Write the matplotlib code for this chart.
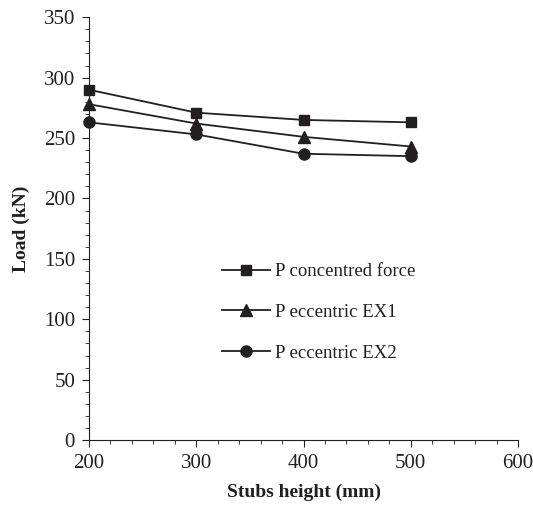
import matplotlib.pyplot as plt
from matplotlib.ticker import MultipleLocator

# data
heights = [200, 300, 400, 500]
p_concentred = [290, 271, 265, 263]
p_ex1 = [278, 262, 251, 243]
p_ex2 = [263, 253, 237, 235]

plt.rcParams['font.family'] = ['Liberation Serif', 'DejaVu Serif']
ink = '#231f20'

fig = plt.figure(figsize=(5.33, 5.07), dpi=100)
ax = fig.add_axes([0.167, 0.132, 0.805, 0.834])

ax.plot(heights, p_concentred, color=ink, lw=1.3, marker='s', ms=7.5,
        label='P concentred force', clip_on=False)
ax.plot(heights, p_ex1, color=ink, lw=1.3, marker='^', ms=8.5,
        label='P eccentric EX1', clip_on=False)
ax.plot(heights, p_ex2, color=ink, lw=1.3, marker='o', ms=8,
        label='P eccentric EX2', clip_on=False)

ax.set_xlim(200, 600)
ax.set_ylim(0, 350)
ax.xaxis.set_major_locator(MultipleLocator(100))
ax.xaxis.set_minor_locator(MultipleLocator(20))
ax.yaxis.set_major_locator(MultipleLocator(50))
ax.yaxis.set_minor_locator(MultipleLocator(10))

for s in ['top', 'right']:
    ax.spines[s].set_visible(False)
for s in ['left', 'bottom']:
    ax.spines[s].set_color(ink)
ax.tick_params(which='major', length=5, color=ink, labelsize=15,
               labelcolor=ink, pad=5)
ax.tick_params(which='minor', length=3, color=ink)

ax.set_xlabel('Stubs height (mm)', fontsize=14, fontweight='bold', color=ink,
              labelpad=8)
ax.set_ylabel('Load (kN)', fontsize=14, fontweight='bold', color=ink, labelpad=10)

ax.legend(loc='upper left', bbox_to_anchor=(0.31, 0.418), frameon=False,
          fontsize=13.5, handlelength=2.56, labelspacing=1.25, handletextpad=0.27,
          borderpad=0, borderaxespad=0, labelcolor=ink)

fig.savefig('out.png', dpi=100)
